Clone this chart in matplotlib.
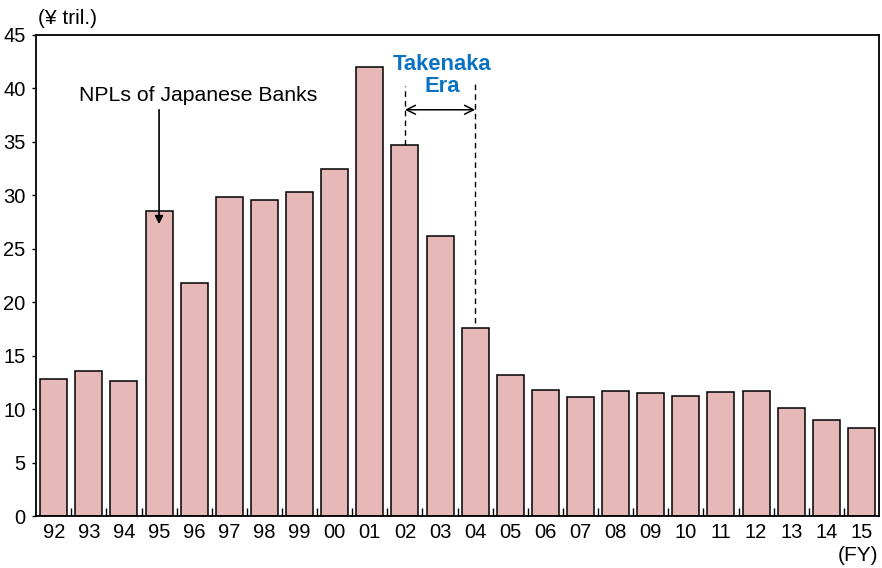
import matplotlib.pyplot as plt
import numpy as np

plt.rcParams['font.family'] = ['Liberation Sans', 'DejaVu Sans']

# fiscal years and NPL amounts (trillion yen)
years = ["92", "93", "94", "95", "96", "97", "98", "99", "00", "01", "02", "03",
         "04", "05", "06", "07", "08", "09", "10", "11", "12", "13", "14", "15"]
npl = [12.8, 13.6, 12.6, 28.5, 21.8, 29.8, 29.6, 30.3, 32.5, 42.0, 34.7, 26.2,
       17.6, 13.2, 11.8, 11.1, 11.7, 11.5, 11.2, 11.6, 11.7, 10.1, 9.0, 8.2]

BAR_COLOR = "#E6B8B7"
BLUE = "#0A72C2"
FS = 14.5

fig = plt.figure(figsize=(8.82, 5.68), dpi=100)
ax = fig.add_axes([0.041, 0.0915, 0.9556, 0.847])

x = np.arange(len(years))
ax.bar(x, npl, width=0.77, color=BAR_COLOR, edgecolor="black", linewidth=1.1, zorder=2)

ax.set_xlim(-0.5, len(years) - 0.5)
ax.set_ylim(0, 45)
ax.set_yticks(range(0, 46, 5))
ax.tick_params(axis="y", direction="out", length=3, width=1, labelsize=FS, pad=4.5)

# year labels centred under bars, tick marks at category boundaries
ax.set_xticks(x)
ax.set_xticklabels(years)
ax.tick_params(axis="x", which="major", length=0, labelsize=FS, pad=5)
ax.set_xticks(np.arange(0.5, len(years) - 0.5), minor=True)
ax.tick_params(axis="x", which="minor", direction="in", length=6, width=1)

for s in ax.spines.values():
    s.set_linewidth(1.3)

fig.text(0.043, 0.968, "(¥ tril.)", fontsize=15, ha="left", va="center")
fig.text(0.996, 0.022, "(FY)", fontsize=15, ha="right", va="center")

# NPL annotation with arrow to the FY95 bar
ax.annotate("", xy=(3, 27.3), xytext=(3, 38.0),
            arrowprops=dict(arrowstyle="-|>", color="black", lw=1.2,
                            mutation_scale=12, shrinkA=0, shrinkB=0))
ax.text(4.1, 39.3, "NPLs of Japanese Banks", fontsize=15.3, ha="center", va="center")

# Takenaka era bracket: FY02 to FY04
i02 = years.index("02")
i04 = years.index("04")
ax.plot([i02, i02], [npl[i02], 40.2], ls=(0, (4, 3)), color="black", lw=1.0)
ax.plot([i04, i04], [npl[i04] + 0.5, 40.5], ls=(0, (4, 3)), color="black", lw=1.0)
ax.annotate("", xy=(i02, 38.0), xytext=(i04, 38.0),
            arrowprops=dict(arrowstyle="<->", color="black", lw=1.1,
                            mutation_scale=16, shrinkA=0, shrinkB=0))
ax.text((i02 + i04) / 2 + 0.05, 41.2, "Takenaka\nEra", fontsize=15.8, color=BLUE,
        fontweight="bold", ha="center", va="center", linespacing=1.05)

fig.savefig("out.png", dpi=100)
